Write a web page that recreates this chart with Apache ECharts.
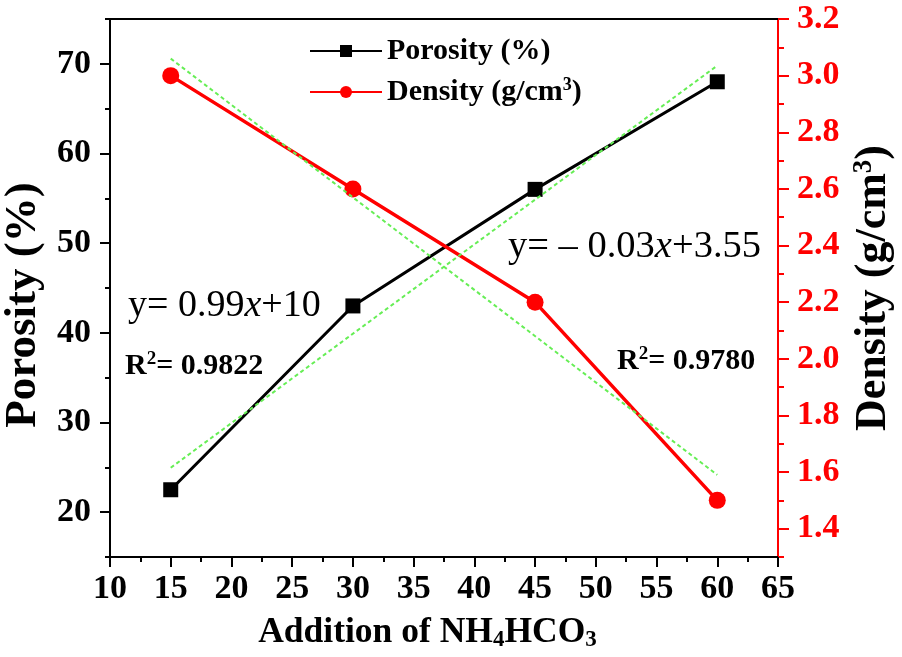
<!DOCTYPE html>
<html>
<head>
<meta charset="utf-8">
<script src="https://cdn.jsdelivr.net/npm/echarts@6/dist/echarts.min.js"></script>
<style>
  html, body { margin: 0; padding: 0; background: #fff; }
  #chart { width: 902px; height: 657px; }
</style>
</head>
<body>
<div id="chart"></div>
<script>
// data
var additions = [15, 30, 45, 60];
var porosity = [22.5, 43, 56, 68];
var density = [3.0, 2.6, 2.2, 1.5];
// end points of the dotted linear fits
var fitX = [15, 60];
var porosityFit = [24.95, 69.8];
var densityFit = [3.06, 1.59];
// labelled ticks
var porosityTicks = [20, 30, 40, 50, 60, 70];
var densityTicks = [1.4, 1.6, 1.8, 2.0, 2.2, 2.4, 2.6, 2.8, 3.0, 3.2];

var SERIF = '"Liberation Serif", "Times New Roman", serif';

function pairs(xs, ys) {
    return xs.map(function (x, i) { return [x, ys[i]]; });
}

var chart = echarts.init(document.getElementById('chart'));

var option = {
    backgroundColor: '#fff',
    animation: false,
    grid: {
        left: 110, right: 124, top: 19, bottom: 100,
        outerBoundsMode: 'none'
    },
    legend: {
        data: ['Porosity', 'Density'],
        orient: 'vertical',
        left: 304,
        top: 31,
        itemWidth: 72,
        itemHeight: 15,
        itemGap: 10,
        formatter: function (name) {
            return name === 'Porosity' ? 'Porosity (%)' : 'Density (g/cm{sup|3})';
        },
        textStyle: {
            fontFamily: SERIF, fontWeight: 'bold', fontSize: 30, color: '#000',
            rich: {
                sup: { fontFamily: SERIF, fontWeight: 'bold', fontSize: 18, color: '#000', verticalAlign: 'top', padding: [0, 0, 14, 0] }
            }
        }
    },
    xAxis: [{
        type: 'value',
        min: 10, max: 65, interval: 5,
        name: 'Addition of NH{sub|4}HCO{sub|3}',
        nameLocation: 'middle',
        nameGap: 56,
        nameTextStyle: {
            fontFamily: SERIF, fontWeight: 'bold', fontSize: 35.5, color: '#000',
            padding: [0, 33, 0, 0],
            rich: {
                sub: { fontFamily: SERIF, fontWeight: 'bold', fontSize: 23, color: '#000', padding: [16, 0, 0, 0] }
            }
        },
        splitLine: { show: false },
        axisLine: { lineStyle: { color: '#000', width: 2 } },
        axisTick: { length: 10, lineStyle: { width: 2 } },
        minorTick: { show: true, splitNumber: 2, length: 5, lineStyle: { color: '#000', width: 2 } },
        axisLabel: { margin: 15, fontFamily: SERIF, fontWeight: 'bold', fontSize: 34, color: '#000' }
    }, {
        type: 'value',
        position: 'top',
        min: 10, max: 65,
        splitLine: { show: false },
        axisLine: { lineStyle: { color: '#000', width: 2 } },
        axisTick: { show: false },
        axisLabel: { show: false }
    }],
    yAxis: [{
        type: 'value',
        position: 'left',
        min: 15, max: 75, interval: 5,
        name: 'Porosity (%)',
        nameLocation: 'middle',
        nameGap: 47,
        nameTextStyle: { fontFamily: SERIF, fontWeight: 'bold', fontSize: 45, color: '#000', padding: [0, 34, 0, 0] },
        splitLine: { show: false },
        axisLine: { lineStyle: { color: '#000', width: 2 } },
        axisTick: { customValues: porosityTicks, length: 10, lineStyle: { width: 2 } },
        axisLabel: { customValues: porosityTicks, margin: 19, fontFamily: SERIF, fontWeight: 'bold', fontSize: 34, color: '#000' }
    }, {
        type: 'value',
        position: 'right',
        min: 1.3, max: 3.2, interval: 0.1,
        name: 'Density (g/cm{sup|3})',
        nameLocation: 'middle',
        nameGap: 72,
        nameRotate: 90,
        nameTextStyle: {
            fontFamily: SERIF, fontWeight: 'bold', fontSize: 44, color: '#000',
            rich: {
                sup: { fontFamily: SERIF, fontWeight: 'bold', fontSize: 27, color: '#000', padding: [0, 0, 20, 0] }
            }
        },
        splitLine: { show: false },
        axisLine: { lineStyle: { color: '#ff0000', width: 2 } },
        axisTick: { customValues: densityTicks, length: 11, lineStyle: { color: '#ff0000', width: 2 } },
        axisLabel: {
            customValues: densityTicks, margin: 19,
            fontFamily: SERIF, fontWeight: 'bold', fontSize: 34, color: '#ff0000',
            formatter: function (v) { return v.toFixed(1); }
        }
    }, {
        // short minor ticks on the left axis
        type: 'value',
        position: 'left',
        min: 15, max: 75, interval: 5,
        splitLine: { show: false },
        axisLine: { show: false },
        axisTick: { length: 5, lineStyle: { color: '#000', width: 2 } },
        axisLabel: { show: false }
    }, {
        // short minor ticks on the right axis
        type: 'value',
        position: 'right',
        min: 1.3, max: 3.2, interval: 0.1,
        splitLine: { show: false },
        axisLine: { show: false },
        axisTick: { length: 6, lineStyle: { color: '#ff0000', width: 2 } },
        axisLabel: { show: false }
    }],
    graphic: [{
        type: 'text', x: 128, y: 306,
        style: {
            text: '{a|y= 0.99}{i|x}{a|+10}',
            verticalAlign: 'middle',
            rich: {
                a: { fontFamily: SERIF, fontSize: 38, fill: '#000' },
                i: { fontFamily: SERIF, fontSize: 38, fontStyle: 'italic', fill: '#000' }
            }
        }
    }, {
        type: 'text', x: 125, y: 366,
        style: {
            text: '{a|R}{s|2}{a|= 0.9822}',
            verticalAlign: 'middle',
            rich: {
                a: { fontFamily: SERIF, fontSize: 30, fontWeight: 'bold', fill: '#000' },
                s: { fontFamily: SERIF, fontSize: 19, fontWeight: 'bold', fill: '#000', padding: [0, 0, 14, 0] }
            }
        }
    }, {
        type: 'text', x: 508, y: 247,
        style: {
            text: '{a|y= \u2013 0.03}{i|x}{a|+3.55}',
            verticalAlign: 'middle',
            rich: {
                a: { fontFamily: SERIF, fontSize: 38.5, fill: '#000' },
                i: { fontFamily: SERIF, fontSize: 38.5, fontStyle: 'italic', fill: '#000' }
            }
        }
    }, {
        type: 'text', x: 617, y: 361,
        style: {
            text: '{a|R}{s|2}{a|= 0.9780}',
            verticalAlign: 'middle',
            rich: {
                a: { fontFamily: SERIF, fontSize: 30, fontWeight: 'bold', fill: '#000' },
                s: { fontFamily: SERIF, fontSize: 19, fontWeight: 'bold', fill: '#000', padding: [0, 0, 14, 0] }
            }
        }
    }],
    series: [{
        name: 'PorosityFit',
        type: 'line',
        xAxisIndex: 0, yAxisIndex: 0,
        data: pairs(fitX, porosityFit),
        symbol: 'none',
        lineStyle: { color: '#66ee55', width: 2, type: [4, 3] },
        z: 3
    }, {
        name: 'DensityFit',
        type: 'line',
        xAxisIndex: 0, yAxisIndex: 1,
        data: pairs(fitX, densityFit),
        symbol: 'none',
        lineStyle: { color: '#66ee55', width: 2, type: [4, 3] },
        z: 3
    }, {
        name: 'Porosity',
        type: 'line',
        xAxisIndex: 0, yAxisIndex: 0,
        data: pairs(additions, porosity),
        symbol: 'rect',
        symbolSize: 15,
        itemStyle: { color: '#000' },
        lineStyle: { color: '#000', width: 3 },
        z: 2
    }, {
        name: 'Density',
        type: 'line',
        xAxisIndex: 0, yAxisIndex: 1,
        data: pairs(additions, density),
        symbol: 'circle',
        symbolSize: 17,
        itemStyle: { color: '#ff0000' },
        lineStyle: { color: '#ff0000', width: 3.5 },
        z: 2
    }]
};

chart.setOption(option);
</script>
</body>
</html>
